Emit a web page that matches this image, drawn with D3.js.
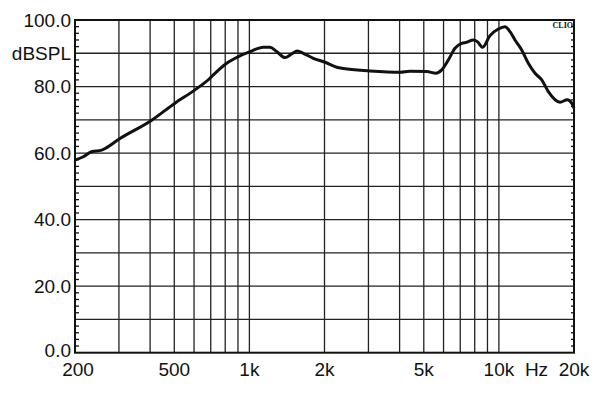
<!DOCTYPE html>
<html>
<head>
<meta charset="utf-8">
<script src="https://cdn.jsdelivr.net/npm/d3@7"></script>
<style>
  html, body { margin: 0; padding: 0; background: #fff; }
  text { font-family: "Liberation Sans", Arial, sans-serif; fill: #111; }
</style>
</head>
<body>
<div id="chart"></div>
<script>
(function () {
  "use strict";

  // frequency response
  var freqs = [200, 216, 233, 256, 303, 406, 503, 605, 695, 717, 811, 903, 1006, 1137, 1209,
    1286, 1389, 1477, 1556, 1644, 1804, 2009, 2238, 2380, 3041, 4014, 4401, 5136, 5596,
    5898, 6270, 6668, 7094, 7430, 7896, 8194, 8610, 9210, 9946, 10578, 11080, 11600,
    12340, 13120, 13960, 14850, 15780, 17580, 18800, 19580, 20000];
  var levels = [57.9, 58.9, 60.4, 60.9, 64.4, 69.9, 75.0, 79.0, 82.5, 83.5, 87.0, 89.0, 90.5,
    91.8, 91.8, 90.5, 88.7, 89.8, 90.7, 90.0, 88.5, 87.3, 85.8, 85.4, 84.7, 84.3, 84.6,
    84.5, 84.0, 85.0, 88.0, 91.5, 93.0, 93.3, 94.0, 93.5, 91.8, 95.3, 97.3, 98.0, 96.5,
    94.0, 91.0, 87.0, 84.0, 82.0, 78.5, 75.3, 76.0, 75.0, 73.5];

  var gridFreqs = [300, 400, 500, 600, 700, 800, 900, 1000, 2000, 3000, 4000, 5000,
    6000, 7000, 8000, 9000, 10000];
  var xTickVals = [200, 500, 1000, 2000, 5000, 10000, 20000];
  var xTickText = ["200", "500", "1k", "2k", "5k", "10k", "20k"];
  var yTickVals = [100, 90, 80, 60, 40, 20, 0];
  var yTickText = ["100.0", "dBSPL", "80.0", "60.0", "40.0", "20.0", "0.0"];

  var w = 607, h = 396,
    left = 75, right = 574, top = 20, bottom = 352.7;

  var x = d3.scaleLog().domain([200, 20000]).range([left, right]);
  var y = d3.scaleLinear().domain([0, 100]).range([bottom, top]);

  var svg = d3.select("#chart").append("svg")
    .attr("width", w)
    .attr("height", h);

  // horizontal grid every 10 dB
  svg.append("g").selectAll("line")
    .data(d3.range(10, 100, 10))
    .enter().append("line")
    .attr("x1", left).attr("x2", right)
    .attr("y1", function (d) { return y(d); })
    .attr("y2", function (d) { return y(d); })
    .attr("stroke", "#222").attr("stroke-width", 1.3);

  // vertical grid
  svg.append("g").selectAll("line")
    .data(gridFreqs)
    .enter().append("line")
    .attr("x1", function (d) { return x(d); })
    .attr("x2", function (d) { return x(d); })
    .attr("y1", top).attr("y2", bottom)
    .attr("stroke", "#222").attr("stroke-width", 1.3);

  // minor ticks every 2 dB on both sides, pointing in
  var minor = d3.range(2, 100, 2).filter(function (d) { return d % 10 !== 0; });
  svg.append("g").selectAll("line")
    .data(minor)
    .enter().append("line")
    .attr("x1", left).attr("x2", left + 4)
    .attr("y1", function (d) { return y(d); })
    .attr("y2", function (d) { return y(d); })
    .attr("stroke", "#111").attr("stroke-width", 1.3);
  svg.append("g").selectAll("line")
    .data(minor)
    .enter().append("line")
    .attr("x1", right - 3).attr("x2", right)
    .attr("y1", function (d) { return y(d); })
    .attr("y2", function (d) { return y(d); })
    .attr("stroke", "#111").attr("stroke-width", 1.3);

  // frame
  svg.append("rect")
    .attr("x", left).attr("y", top)
    .attr("width", right - left).attr("height", bottom - top)
    .attr("fill", "none").attr("stroke", "#111").attr("stroke-width", 2);

  // response curve
  var pts = freqs.map(function (f, i) { return [f, levels[i]]; });
  var line = d3.line()
    .x(function (d) { return x(d[0]); })
    .y(function (d) { return y(d[1]); })
    .curve(d3.curveMonotoneX);
  svg.append("path")
    .datum(pts)
    .attr("d", line)
    .attr("fill", "none")
    .attr("stroke", "#111")
    .attr("stroke-width", 3)
    .attr("stroke-linejoin", "round");

  // y labels
  svg.append("g").selectAll("text")
    .data(yTickVals)
    .enter().append("text")
    .attr("x", left - 4)
    .attr("y", function (d) { return y(d) + (d === 0 ? 4.5 : 6.5); })
    .attr("text-anchor", "end")
    .style("font-size", "19px")
    .text(function (d, i) { return yTickText[i]; });

  // x labels
  svg.append("g").selectAll("text")
    .data(xTickVals)
    .enter().append("text")
    .attr("x", function (d) { return x(d) + (d === 200 ? 3 : 0); })
    .attr("y", 375.5)
    .attr("text-anchor", "middle")
    .style("font-size", "19px")
    .text(function (d, i) { return xTickText[i]; });

  svg.append("text")
    .attr("x", x(10000) + 26)
    .attr("y", 375.5)
    .style("font-size", "19px")
    .text("Hz");

  svg.append("text")
    .attr("x", right - 1)
    .attr("y", 28)
    .attr("text-anchor", "end")
    .style("font-family", "'Liberation Serif', 'DejaVu Serif', serif")
    .style("font-size", "8px")
    .style("font-weight", "bold")
    .text("CLIO");
})();
</script>
</body>
</html>
